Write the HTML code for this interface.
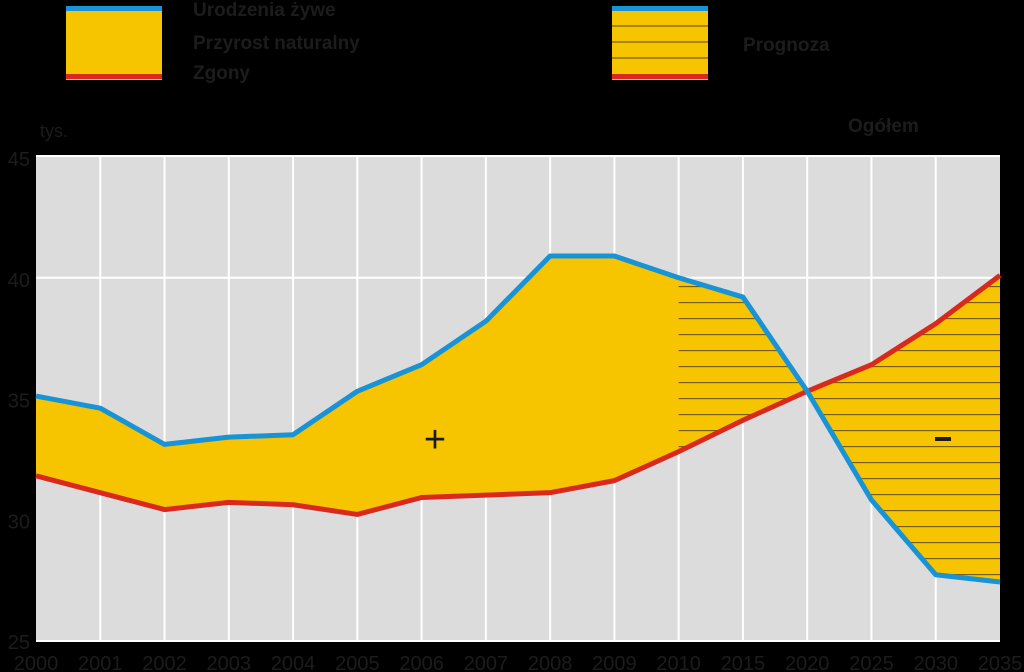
<!DOCTYPE html>
<html><head><meta charset="utf-8"><style>
html,body{margin:0;padding:0;background:#000;}
svg{display:block;font-family:"Liberation Sans",sans-serif;}
</style></head><body>
<svg id="chart" width="1024" height="672" viewBox="0 0 1024 672">
<defs>
<pattern id="hatch" patternUnits="userSpaceOnUse" x="0" y="302" width="10" height="16"><rect width="10" height="16" fill="none"/><line x1="0" y1="0.5" x2="10" y2="0.5" stroke="#7a5e00" stroke-width="1.3"/></pattern>
<clipPath id="fc"><rect x="679" y="150" width="330" height="500"/></clipPath>
</defs>
<g>
<rect x="66" y="6" width="96" height="74" fill="#f7c400"/>
<rect x="66" y="6" width="96" height="5" fill="#1793d6"/>
<rect x="66" y="74" width="96" height="5" fill="#d9291c"/>
<text x="193" y="16" font-size="19" font-weight="bold" fill="#1c1c1c">Urodzenia żywe</text>
<text x="193" y="49" font-size="19" font-weight="bold" fill="#1c1c1c">Przyrost naturalny</text>
<text x="193" y="79" font-size="19" font-weight="bold" fill="#1c1c1c">Zgony</text>
<rect x="612" y="6" width="96" height="74" fill="#f7c400"/>
<line x1="612" y1="26" x2="708" y2="26" stroke="#7a5e00" stroke-width="1.3"/>
<line x1="612" y1="42" x2="708" y2="42" stroke="#7a5e00" stroke-width="1.3"/>
<line x1="612" y1="58" x2="708" y2="58" stroke="#7a5e00" stroke-width="1.3"/>
<rect x="612" y="6" width="96" height="5" fill="#1793d6"/>
<rect x="612" y="74" width="96" height="5" fill="#d9291c"/>
<text x="743" y="51" font-size="19" font-weight="bold" fill="#1c1c1c">Prognoza</text>
</g>
<text x="40" y="137" font-size="18" fill="#1c1c1c">tys.</text>
<text x="848" y="132" font-size="19" font-weight="bold" fill="#1c1c1c">Ogółem</text>
<rect x="36" y="155" width="964" height="486" fill="#dcdcdc"/>
<g id="grid"></g>
<g id="series"></g>
<text x="435" y="452" font-size="38" text-anchor="middle" fill="#1c1c1c">+</text>
<rect x="935" y="437" width="16" height="4" fill="#1c1c1c"/>
<g id="axes"></g>
</svg>
<script>
const categories = ["2000","2001","2002","2003","2004","2005","2006","2007","2008","2009","2010","2015","2020","2025","2030","2035"];
const births = [35.1,34.6,33.1,33.4,33.5,35.3,36.4,38.2,40.9,40.9,40.0,39.2,35.3,30.8,27.7,27.4];
const deaths = [31.8,31.1,30.4,30.7,30.6,30.2,30.9,31.0,31.1,31.6,32.8,34.1,35.3,36.4,38.1,40.1];
const yTicks = [25,30,35,40,45];
const forecastStart = 10;
const NS="http://www.w3.org/2000/svg";
const x0=36,x1=1000,yTop=157,yBot=640,yMin=25,yMax=45;
function xs(i){return x0+(x1-x0)*i/(categories.length-1);}
function ys(v){return yBot-(v-yMin)/(yMax-yMin)*(yBot-yTop);}
function mk(t,a,p){const e=document.createElementNS(NS,t);for(const k in a)e.setAttribute(k,a[k]);p.appendChild(e);return e;}
const grid=document.getElementById('grid'),series=document.getElementById('series'),axes=document.getElementById('axes');
categories.forEach((c,i)=>{if(i>0&&i<categories.length-1){const l=mk('line',{x1:xs(i),x2:xs(i),y1:155,y2:641,stroke:'#fff','stroke-width':2},grid);

}
const t=mk('text',{x:xs(i),y:670,'font-size':20,'text-anchor':'middle',fill:'#1c1c1c'},axes);t.textContent=c;

});
const gl=mk('line',{x1:x0,x2:x1,y1:ys(40),y2:ys(40),stroke:'#fff','stroke-width':2},grid);


const topBorder=mk('line',{x1:x0,x2:x1,y1:156,y2:156,stroke:'#fff','stroke-width':2},grid);


yTicks.forEach(v=>{const t=mk('text',{x:30,y:ys(v)+9,'font-size':20,'text-anchor':'end',fill:'#1c1c1c'},axes);t.textContent=v;

});
const bp=births.map((v,i)=>xs(i)+','+ys(v)),dp=deaths.map((v,i)=>xs(i)+','+ys(v));
const poly=bp.concat(dp.slice().reverse()).join(' ');
const area=mk('polygon',{points:poly,fill:'#f7c400'},series);


document.getElementById('fc').firstElementChild.setAttribute('x',xs(forecastStart));
const hg=mk('g',{'clip-path':'url(#fc)'},series);
const ha=mk('polygon',{points:poly,fill:'url(#hatch)'},hg);


const dl=mk('polyline',{points:dp.join(' '),fill:'none',stroke:'#d9291c','stroke-width':5,'stroke-linejoin':'round'},series);


const bl=mk('polyline',{points:bp.join(' '),fill:'none',stroke:'#1793d6','stroke-width':5,'stroke-linejoin':'round'},series);


const ax=mk('line',{x1:x0,x2:x1,y1:641,y2:641,stroke:'#fff','stroke-width':2},axes);


</script>
</body></html>
